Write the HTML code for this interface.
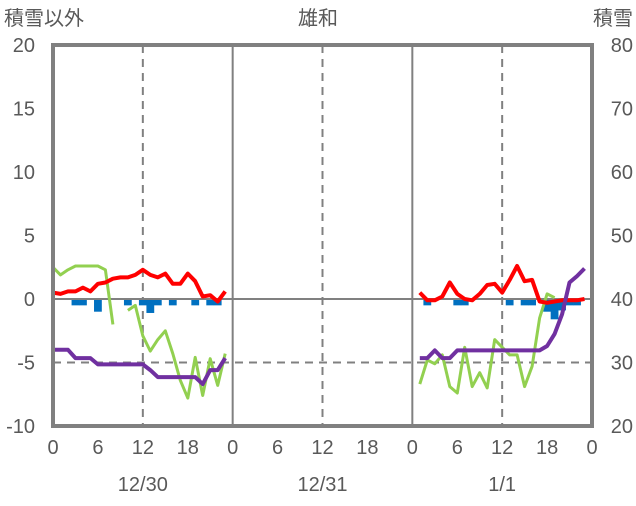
<!DOCTYPE html>
<html><head><meta charset="utf-8"><style>
body{margin:0;background:#fff;width:636px;height:501px;overflow:hidden}
svg text{font-family:"Liberation Sans","Noto Sans CJK JP",sans-serif;fill:#595959}
</style></head><body>
<svg id="c" width="636" height="501" xmlns="http://www.w3.org/2000/svg"></svg>
<script>
const days=["12/30","12/31","1/1"];
const leftTicks=[20,15,10,5,0,-5,-10];
const rightTicks=[80,70,60,50,40,30,20];
const hourTicks=[0,6,12,18];
const N=null;
const redSeries=[0.5,0.4,0.6,0.6,0.9,0.6,1.2,1.3,1.6,1.7,1.7,1.9,2.3,1.9,1.7,2.0,1.2,1.2,2.0,1.4,0.2,0.3,-0.2,0.6,
N,N,N,N,N,N,N,N,N,N,N,N,N,N,N,N,N,N,N,N,N,N,N,N,
N,0.5,-0.1,-0.1,0.2,1.3,0.4,0,-0.1,0.4,1.1,1.2,0.5,1.5,2.6,1.4,1.5,-0.2,-0.3,-0.2,-0.1,-0.1,-0.1,0];
const greenSeries=[2.5,1.9,2.3,2.6,2.6,2.6,2.6,2.3,-2.0,N,-0.9,-0.5,-2.9,-4.1,-3.2,-2.5,-4.3,-6.4,-7.8,-4.6,-7.6,-4.7,-6.8,-4.3,
N,N,N,N,N,N,N,N,N,N,N,N,N,N,N,N,N,N,N,N,N,N,N,N,
N,-6.7,-4.8,-5.1,-4.4,-6.9,-7.4,-3.8,-6.9,-5.8,-7.0,-3.2,-3.8,-4.4,-4.4,-6.9,-5.3,-1.5,0.4,0.1,N,N,N,N];
const purpleSnow=[32,32,32,30.7,30.7,30.7,29.7,29.7,29.7,29.7,29.7,29.7,29.7,28.8,27.7,27.7,27.7,27.7,27.7,27.7,26.6,28.8,28.8,30.7,
N,N,N,N,N,N,N,N,N,N,N,N,N,N,N,N,N,N,N,N,N,N,N,N,
N,30.7,30.7,31.9,30.7,30.7,31.9,31.9,31.9,31.9,31.9,31.9,31.9,31.9,31.9,31.9,31.9,31.9,32.6,34.5,37.6,42.6,43.6,44.8];
const blueBars=[0,0,0,-0.5,-0.5,0,-1.0,0,0,0,-0.5,0,-0.5,-1.1,-0.5,0,-0.5,0,0,-0.5,0,-0.5,-0.5,0,
0,0,0,0,0,0,0,0,0,0,0,0,0,0,0,0,0,0,0,0,0,0,0,0,
0,0,-0.5,0,0,0,-0.5,-0.5,0,0,0,0,0,-0.5,0,-0.5,-0.5,0,-1.0,-1.6,-0.9,-0.5,-0.5,0];

const X0=53,X1=592,YT=45,YB=426;
const x=h=>X0+(X1-X0)*h/72;
const y=v=>YB-(v+10)*(YB-YT)/30;
const yr=v=>y((v-40)/2);
const svg=document.getElementById('c');
const NS="http://www.w3.org/2000/svg";
function mk(t,a,txt){const e=document.createElementNS(NS,t);for(const k in a)e.setAttribute(k,a[k]);if(txt!=null)e.textContent=txt;svg.appendChild(e);return e;}

let e;
// day separators and dashed lines
for(let d=1;d<3;d++){e=mk('line',{x1:x(d*24),x2:x(d*24),y1:YT,y2:YB,stroke:'#808080','stroke-width':2});

}
for(let d=0;d<3;d++){e=mk('line',{x1:x(d*24+12),x2:x(d*24+12),y1:YT,y2:YB,stroke:'#808080','stroke-width':2,'stroke-dasharray':'8,6'});

}
e=mk('line',{x1:X0,x2:X1,y1:y(-5),y2:y(-5),stroke:'#808080','stroke-width':2,'stroke-dasharray':'8,6'});


// bars
blueBars.forEach((v,i)=>{if(!v)return;const r=mk('rect',{x:x(i)-3.9,y:y(0),width:7.8,height:y(v)-y(0),fill:'#0070C0'});

});
e=mk('line',{x1:X0,x2:X1,y1:y(0),y2:y(0),stroke:'#808080','stroke-width':2});


function line(arr,col,f,name,w){let d='',pen=false;arr.forEach((v,i)=>{if(v==null){pen=false;return;}d+=(pen?'L':'M')+x(i).toFixed(1)+','+f(v).toFixed(1);pen=true;});
const p=mk('path',{d:d,fill:'none',stroke:col,'stroke-width':w,'stroke-linejoin':'round'});

}
line(greenSeries,'#92D050',y,'green-series-line',3);
line(redSeries,'#FF0000',y,'red-series-line',4);
line(purpleSnow,'#7030A0',yr,'snow-depth-line',4);
// frame
e=mk('rect',{x:X0,y:YT,width:X1-X0,height:YB-YT,fill:'none',stroke:'#808080','stroke-width':4});


// ticks
leftTicks.forEach(v=>{const t=mk('text',{x:35,y:y(v)+7,'text-anchor':'end','font-size':20},String(v));

});
rightTicks.forEach(v=>{const t=mk('text',{x:633,y:yr(v)+7,'text-anchor':'end','font-size':20},String(v));

});
for(let d=0;d<3;d++){hourTicks.forEach(h=>{const t=mk('text',{x:x(d*24+h),y:454,'text-anchor':'middle','font-size':20},String(h));

});
const t=mk('text',{x:x(d*24+12),y:491,'text-anchor':'middle','font-size':20},days[d]);

}
const t0=mk('text',{x:x(72),y:454,'text-anchor':'middle','font-size':20},'0');


let tt=mk('text',{x:4,y:25,'font-size':20},'積雪以外');


tt=mk('text',{x:318,y:25,'text-anchor':'middle','font-size':20},'雄和');


tt=mk('text',{x:633,y:25,'text-anchor':'end','font-size':20},'積雪');


</script>
</body></html>
